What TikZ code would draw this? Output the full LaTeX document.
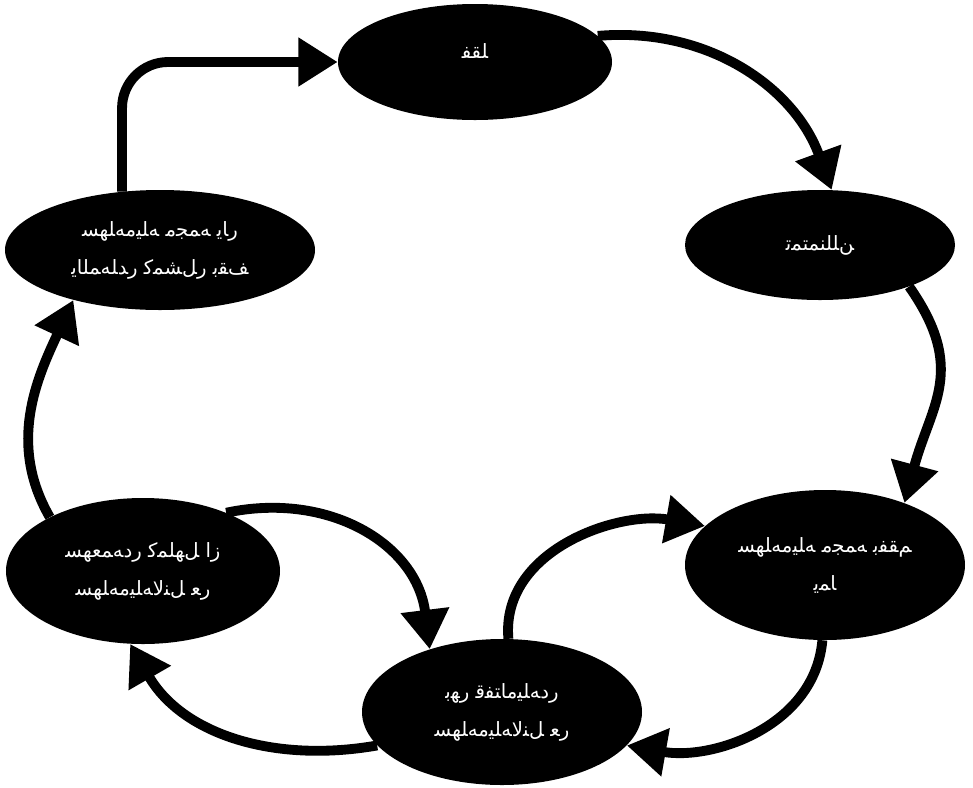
\documentclass[tikz,border=0pt]{standalone}
\usepackage{fontspec}
\newfontfamily\arabicfont{DejaVu Sans}
\usetikzlibrary{shapes.geometric,arrows.meta}
\def\ltrstop{}
\def\ltrword#1{\ltrnext#1\ltrstop}
\def\ltrnext#1{\ifx#1\ltrstop\else\hbox{#1}\expandafter\ltrnext\fi}
\tikzstyle{stage}=[ellipse, fill=black, text=white, inner sep=0pt, align=center,
font=\arabicfont\fontsize{14}{27}\selectfont]
\tikzstyle{flow}=[line width=7pt, -{Triangle[length=28pt,width=33pt]}]

\begin{document}
\begin{tikzpicture}
\useasboundingbox (0,0) rectangle (24.325,-19.675);
\node[stage, minimum width=6.85cm, minimum height=2.9cm](top) at (11.875,-1.55) {\raisebox{16pt}{\ltrword{ﻔﻘﻠ}}};
\node[stage, minimum width=6.75cm, minimum height=2.75cm](right) at (20.5,-6.125) {\ltrword{ﺗﻤﺘﻤﻨﻠﻠﻦ}};
\node[stage, minimum width=7.0cm, minimum height=3.75cm](botright) at (20.625,-14.125) {\ltrword{ﺴﻬﻠﻪﻣﻴﻠﻪ} \ltrword{ﻣﺠﻤﻪ} \ltrword{ﺑﻔﻘﻢ}\\\ltrword{ﻳﻤﺎ}};
\node[stage, minimum width=7.0cm, minimum height=3.65cm](bottom) at (12.55,-17.8) {\ltrword{ﺑﻬﺭ} \ltrword{ﻗﻔﺘﺎﻣﻴﻠﻪﺩﺭ}\\\ltrword{ﺴﻬﻠﻪﻣﻴﻠﻪﻻﻨﻞ} \ltrword{ﻌﺭ}};
\node[stage, minimum width=6.85cm, minimum height=3.65cm](botleft) at (3.575,-14.275) {\ltrword{ﺴﻬﻌﻤﻪﺩﺭ} \ltrword{ﻛﻤﻠﻬﻞ} \ltrword{ﺍﺯ}\\\ltrword{ﺴﻬﻠﻪﻣﻴﻠﻪﻻﻨﻞ} \ltrword{ﻌﺭ}};
\node[stage, minimum width=7.75cm, minimum height=3.0cm](topleft) at (4.0,-6.25) {\ltrword{ﺴﻬﻠﻪﻣﻴﻠﻪ} \ltrword{ﻣﺠﻤﻪ} \ltrword{ﻳﺎﺭ}\\\ltrword{ﻳﺎﻠﻤﻪﻠﺪﺭ} \ltrword{ﻛﻤﺸﻞﺭ} \ltrword{ﺑﻘﻒ}};
\draw[flow, rounded corners=1.15cm] (topleft.123) |- (top.west);
\draw[flow] (top.12) to[out=5,in=110] (right.78);
\draw[flow] (right.-25) to[out=-55,in=75,looseness=1.2] (botright.38);
\draw[flow] (botright.-92) to[out=-95,in=-10] (bottom.-15);
\draw[flow] (bottom.195) to[out=190,in=-60] (botleft.-100);
\draw[flow] (botleft.150) to[out=120,in=-115] (topleft.-150);
\draw[flow] (botleft.35) to[out=12,in=97,looseness=1.1] (bottom.139);
\draw[flow] (bottom.85) to[out=95,in=170] (botright.162);
\end{tikzpicture}
\end{document}
